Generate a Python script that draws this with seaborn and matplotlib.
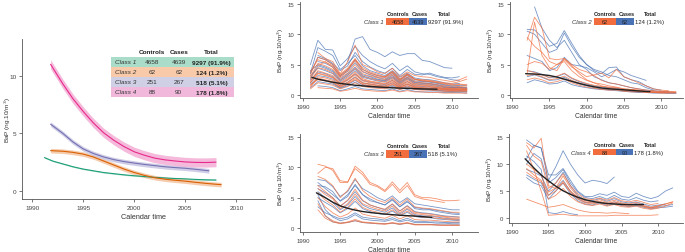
import numpy as np
import pandas as pd
import matplotlib
matplotlib.use("Agg")
import matplotlib.pyplot as plt
import seaborn as sns

# ---- data -------------------------------------------------------------
years = list(range(1991, 2013))
N = None

class_names = ["Class 1", "Class 2", "Class 3", "Class 4"]
n_controls = [4658, 62, 251, 88]
n_cases = [4639, 62, 267, 90]
n_total = ["9297 (91.9%)", "124 (1.2%)", "518 (5.1%)", "178 (1.8%)"]

# mean class trajectories (left panel and black lines)
c1_years = [1991.2, 1992, 1993, 1994, 1995, 1996, 1997, 1998, 1999, 2000, 2001, 2002, 2003, 2004, 2005, 2006, 2007, 2008]
c1_mean = [2.9, 2.6, 2.35, 2.1, 1.9, 1.75, 1.6, 1.5, 1.4, 1.32, 1.25, 1.18, 1.13, 1.08, 1.05, 1.0, 0.97, 0.95]
c2_years = [1991.8, 1993, 1994, 1995, 1996, 1997, 1998, 1999, 2000, 2001, 2002, 2003, 2004, 2005, 2006, 2007, 2008, 2008.5]
c2_mean = [3.5, 3.45, 3.35, 3.2, 2.95, 2.6, 2.25, 1.9, 1.6, 1.35, 1.15, 1.02, 0.93, 0.85, 0.75, 0.66, 0.58, 0.55]
c3_years = [1991.8, 1993, 1994, 1995, 1996, 1997, 1998, 1999, 2000, 2001, 2002, 2003, 2004, 2005, 2006, 2007, 2007.3]
c3_mean = [5.8, 5.0, 4.25, 3.65, 3.25, 2.95, 2.72, 2.55, 2.42, 2.3, 2.2, 2.1, 2.03, 1.97, 1.88, 1.78, 1.75]
c4_years = [1991.8, 1993, 1994, 1995, 1996, 1997, 1998, 1999, 2000, 2001, 2002, 2003, 2004, 2005, 2006, 2007, 2008]
c4_mean = [11.0, 9.3, 8.0, 6.9, 5.9, 5.05, 4.4, 3.85, 3.4, 3.1, 2.85, 2.7, 2.6, 2.52, 2.48, 2.47, 2.5]
band_halfwidth = [0.05, 0.2, 0.2, 0.4]

# individual trajectories, yearly 1991-2012
c1_cases = [
    [5.0, 9.0, 7.5, 7.4, 4.8, 6.0, 8.0, 6.5, 5.5, 4.8, 4.3, 5.2, 4.0, 4.8, 3.8, 3.5, 3.4, 3.0, 2.8, 2.5, 2.4, N],
    [N, N, N, N, N, 5.5, 9.2, 9.6, 7.5, 7.0, 6.3, 7.1, 6.5, 6.8, 6.8, 5.7, 5.5, 5.0, 4.5, 4.4, N, N],
    [3.5, 6.2, 5.8, 5.0, 3.2, 4.2, 5.8, 4.2, 3.6, 3.2, 2.9, 3.8, 2.5, 3.4, 2.6, 2.3, 2.2, 2.0, 1.7, 1.5, 1.6, 1.5],
    [2.5, 3.8, 3.5, 3.0, 1.8, 2.5, 3.5, 2.4, 2.1, 1.9, 1.7, 2.4, 1.5, 2.2, 1.5, 1.4, 1.3, 1.2, 1.0, 0.9, 1.0, 0.9],
    [1.8, 2.6, 2.4, 2.0, 1.2, 1.7, 2.4, 1.7, 1.5, 1.3, 1.2, 1.6, 1.0, 1.5, 1.0, 0.9, 0.9, 0.8, 0.7, 0.6, 0.7, 0.6],
    [N, 1.5, 1.4, 1.2, 0.7, 1.0, 1.4, 1.0, 0.9, 0.8, 0.7, 1.0, 0.6, 0.9, 0.6, 0.5, 0.5, 0.5, 0.4, 0.4, 0.4, 0.3],
    [4.0, 5.0, 4.6, 4.0, 2.6, 3.5, 4.6, 3.3, 3.0, 2.6, 2.4, 3.2, 2.1, 2.9, 2.1, 2.0, 1.9, 1.7, 1.4, 1.2, 1.3, 1.2],
    [N, 6.5, 6.0, 5.2, 4.0, 4.8, 7.0, 5.5, 4.6, 4.0, 3.6, 4.4, 3.2, 4.2, 3.4, 3.3, 3.6, 3.2, 2.9, 2.8, 3.0, N],
    [3.2, 4.4, 4.0, 3.5, 2.2, 3.0, 4.0, 2.9, 2.6, 2.3, 2.1, 2.8, 1.8, 2.6, 1.8, 1.7, 1.6, 1.4, 1.2, 1.1, 1.2, 1.1],
    [2.0, 3.2, 3.0, 2.6, 1.5, 2.1, 3.0, 2.0, 1.8, 1.6, 1.5, 2.0, 1.3, 1.8, 1.3, 1.2, 1.1, 1.0, 0.9, 0.8, 0.8, 0.8],
    [2.8, 4.8, 4.4, 3.8, 2.4, 3.3, 4.3, 3.1, 2.8, 2.5, 2.3, 3.0, 2.0, 2.8, 2.0, 1.9, 1.8, 1.6, 1.3, 1.2, 1.2, 1.1],
    [1.2, 2.2, 2.0, 1.8, 1.1, 1.5, 2.1, 1.5, 1.3, 1.2, 1.1, 1.4, 0.9, 1.3, 0.9, 0.9, 0.8, 0.7, 0.6, 0.6, 0.6, 0.5],
    [N, 5.5, 5.2, 4.6, 3.0, 3.9, 5.3, 3.8, 3.3, 2.9, 2.6, 3.5, 2.3, 3.2, 2.3, 2.2, 2.1, 1.9, 1.6, 1.4, 1.5, N],
    [3.6, 7.8, 7.2, 6.5, 4.2, 5.2, 6.5, 4.8, 4.0, 3.6, 3.2, 4.0, 2.9, 3.6, 2.8, 2.6, 2.5, 2.3, 2.0, 1.8, 1.9, N],
]
c1_controls = [
    [3.0, 5.2, 4.8, 4.2, 2.8, 3.6, 5.0, 3.5, 3.1, 2.8, 2.5, 3.3, 2.2, 3.0, 2.2, 2.0, 1.9, 1.7, 1.5, 1.3, 1.4, 1.3],
    [2.2, 4.0, 3.6, 3.2, 2.0, 2.8, 3.8, 2.7, 2.3, 2.1, 1.9, 2.6, 1.7, 2.4, 1.7, 1.6, 1.5, 1.3, 1.1, 1.0, 1.1, 1.0],
    [1.5, 3.0, 2.8, 2.4, 1.5, 2.1, 2.9, 2.0, 1.8, 1.6, 1.4, 2.0, 1.3, 1.8, 1.3, 1.2, 1.1, 1.0, 0.9, 0.8, 0.9, 0.8],
    [1.0, 2.0, 1.8, 1.6, 1.0, 1.4, 2.0, 1.4, 1.2, 1.1, 1.0, 1.3, 0.9, 1.2, 0.9, 0.8, 0.8, 0.7, 0.6, 0.5, 0.6, 0.5],
    [N, 7.0, 6.0, 5.5, 3.5, 5.5, 8.2, 5.0, 4.5, 3.8, 3.5, 4.4, 3.0, 3.8, 3.2, 3.0, 2.9, 2.6, 2.4, 2.2, 2.5, 3.0],
    [3.8, 5.8, 5.4, 4.8, 3.2, 4.2, 5.6, 3.9, 3.4, 3.0, 2.8, 3.6, 2.4, 3.3, 2.5, 2.3, 2.2, 2.0, 1.8, 1.6, 1.7, 1.6],
    [2.7, 4.5, 4.2, 3.6, 2.4, 3.2, 4.4, 3.1, 2.7, 2.4, 2.2, 2.9, 1.9, 2.7, 1.9, 1.8, 1.7, 1.5, 1.3, 1.1, 1.2, 1.1],
    [N, 1.2, 1.1, 1.0, 0.6, 0.8, 1.1, 0.8, 0.7, 0.6, 0.6, 0.8, 0.5, 0.7, 0.5, 0.5, 0.4, 0.4, 0.3, 0.3, 0.3, 0.3],
    [2.4, 3.5, 3.2, 2.8, 1.7, 2.4, 3.3, 2.3, 2.0, 1.8, 1.6, 2.2, 1.4, 2.0, 1.4, 1.3, 1.3, 1.1, 1.0, 0.9, 0.9, 0.9],
    [1.7, 2.5, 2.3, 2.0, 1.3, 1.8, 2.5, 1.7, 1.5, 1.4, 1.2, 1.7, 1.1, 1.5, 1.1, 1.0, 1.0, 0.9, 0.8, 0.7, 0.7, 0.7],
    [3.4, 6.2, 5.8, 5.0, 3.4, 4.4, 6.0, 4.2, 3.6, 3.2, 3.0, 3.9, 2.6, 3.5, 2.6, 2.4, 2.3, 2.1, 1.9, 1.7, 1.8, 1.7],
    [1.3, 2.8, 2.5, 2.2, 1.4, 1.9, 2.7, 1.9, 1.7, 1.5, 1.3, 1.8, 1.2, 1.7, 1.2, 1.1, 1.0, 0.9, 0.8, 0.7, 0.8, 0.7],
    [2.0, 3.6, 3.3, 2.9, 1.9, 2.6, 3.5, 2.5, 2.2, 2.0, 1.8, 2.4, 1.6, 2.2, 1.6, 1.5, 1.4, 1.2, 1.1, 1.0, 1.0, 0.9],
    [N, 4.8, 5.5, 4.5, 3.0, 4.0, 5.8, 4.5, 3.8, 3.4, 3.0, 3.8, 2.6, 3.4, 2.6, 2.5, 2.4, 2.2, 2.0, 1.9, 2.2, 2.6],
]
c2_cases = [
    [N, 10.8, 10.7, 9.5, 8.0, 8.5, 10.6, 8.5, 6.5, 5.0, 4.0, 3.5, 4.5, 4.6, 3.0, 2.5, 2.2, 1.5, 1.0, 0.8, N, N],
    [N, N, 14.5, 11.0, 9.0, 7.8, 9.0, 7.0, 5.0, 4.2, 3.0, 2.5, 2.0, 1.8, 1.5, 1.2, 1.0, 0.8, 0.7, 0.6, 0.5, N],
    [N, 6.5, 6.0, 5.5, 4.0, 4.5, 6.2, 5.0, 4.8, 4.5, 3.8, 3.0, 3.5, 4.2, 3.8, 3.2, 2.8, 2.4, N, N, N, N],
    [N, 4.0, 3.8, 3.4, 2.8, 3.0, 3.5, 2.7, 2.2, 1.8, 1.5, 1.3, 1.2, 1.1, 0.9, 0.8, 0.7, 0.6, 0.5, 0.5, 0.5, 0.4],
    [N, 3.0, 3.3, 2.9, 2.4, 2.5, 2.9, 2.2, 1.8, 1.5, 1.2, 1.0, 0.9, 0.9, 0.7, 0.6, 0.5, 0.5, 0.4, 0.4, 0.3, 0.3],
    [N, 2.0, 2.5, 2.2, 1.8, 1.9, 2.3, 1.7, 1.4, 1.2, 1.0, 0.9, 0.8, 0.7, 0.6, 0.5, 0.4, 0.4, 0.3, 0.3, 0.3, 0.3],
    [N, 10.5, 10.0, 8.5, 7.0, 7.5, 10.2, 8.0, 6.2, 5.0, 4.2, 3.8, 3.2, 3.0, 2.5, 2.0, 1.8, 1.2, 0.8, N, N, N],
]
c2_controls = [
    [N, 9.0, 12.8, 11.0, 6.0, 5.8, 6.0, 4.8, 3.5, 2.5, 2.0, 1.8, 1.5, 1.3, 1.0, 0.9, 0.8, 0.6, 0.5, 0.5, 0.4, N],
    [N, 3.5, 12.0, 6.5, 4.5, 4.0, 6.0, 5.0, 4.2, 3.8, 3.2, 2.4, 2.0, 1.8, 1.5, 1.2, 1.0, 0.8, 0.7, 0.6, 0.6, 0.5],
    [N, 4.0, 3.7, 3.3, 2.9, 3.1, 3.6, 2.8, 2.3, 1.9, 1.6, 1.4, 1.3, 1.2, 1.0, 0.9, 0.8, 0.6, 0.5, 0.5, 0.5, 0.5],
    [N, 3.2, 3.4, 3.0, 2.5, 2.7, 3.1, 2.4, 2.0, 1.6, 1.3, 1.1, 1.0, 0.9, 0.8, 0.7, 0.6, 0.5, 0.5, 0.4, 0.4, 0.4],
    [N, 2.5, 2.8, 2.5, 2.0, 2.2, 2.6, 2.0, 1.6, 1.3, 1.1, 0.9, 0.8, 0.8, 0.6, 0.5, 0.5, 0.4, 0.4, 0.3, 0.3, 0.3],
    [N, 5.0, 5.5, 5.2, 4.2, 5.0, 5.8, 4.6, 3.8, 3.0, 3.3, 3.6, 2.8, 4.2, 3.0, 2.5, 2.0, 1.5, 1.0, 0.8, 0.7, N],
    [N, 9.5, 8.0, 7.0, 5.5, 5.0, 5.5, 4.0, 3.0, 2.4, 2.0, 1.5, 1.2, 1.0, 0.8, 0.7, 0.6, 0.5, 0.4, 0.4, N, N],
]
c3_cases = [
    [N, 7.5, 6.5, 5.5, 4.5, 5.5, 7.0, 5.5, 4.5, 4.2, 3.8, 4.8, 3.5, 4.5, 3.2, 3.0, 3.0, 2.7, 2.5, 2.3, 2.2, N],
    [N, 6.0, 5.0, 4.2, 3.0, 3.8, 5.2, 3.8, 3.2, 2.9, 2.6, 3.3, 2.3, 3.1, 2.2, 2.0, 2.0, 1.8, 1.6, 1.5, 1.4, N],
    [N, 5.5, 3.0, 1.8, 1.2, 1.5, 2.2, 1.5, 1.3, 1.2, 1.1, 1.4, 1.0, 1.3, 0.9, 0.9, 0.9, 0.8, 0.8, 0.7, 0.7, N],
    [N, 4.5, 2.0, 1.0, 0.8, 0.9, 1.2, 0.9, 0.8, 0.7, 0.7, 0.8, 0.6, 0.8, 0.6, 0.6, 0.6, 0.5, 0.5, 0.5, 0.5, N],
    [N, 8.0, 7.8, 6.8, 5.2, 6.0, 8.0, 6.5, 5.8, 5.0, 4.5, 5.3, 4.2, 5.0, 4.0, 3.8, 3.6, 3.4, 3.2, 3.0, 3.0, N],
    [N, 6.5, 5.8, 5.0, 3.6, 4.5, 6.0, 4.5, 3.8, 3.4, 3.0, 3.9, 2.8, 3.7, 2.7, 2.5, 2.4, 2.2, 2.0, 1.9, 1.8, N],
    [N, 3.5, 2.5, 2.0, 1.5, 1.8, 2.5, 1.8, 1.6, 1.5, 1.3, 1.7, 1.2, 1.6, 1.1, 1.1, 1.0, 1.0, 0.9, 0.9, 0.9, N],
    [N, 5.0, 4.2, 3.5, 2.5, 3.2, 4.4, 3.2, 2.7, 2.4, 2.2, 2.8, 2.0, 2.6, 1.9, 1.7, 1.7, 1.5, 1.4, 1.3, 1.2, N],
    [N, 7.0, 6.8, 6.0, 4.4, 5.2, 7.2, 5.5, 4.8, 4.2, 3.8, 4.6, 3.5, 4.3, 3.4, 3.2, 3.1, 2.9, 2.7, 2.5, 2.4, N],
]
c3_controls = [
    [N, 10.5, 10.2, 9.5, 7.5, 7.5, 10.2, 9.2, 7.5, 7.0, 6.2, 7.6, 6.2, 7.5, 5.5, 5.0, 5.0, 4.8, 4.5, 4.5, 4.6, N],
    [N, 9.0, 10.0, 9.8, 7.8, 7.6, 9.8, 8.8, 7.2, 6.8, 6.0, 7.2, 5.8, 7.0, 5.2, 4.8, 4.6, 4.4, 4.2, N, N, N],
    [N, 7.0, 6.0, 5.0, 3.6, 4.6, 6.4, 4.6, 3.8, 3.4, 3.1, 4.0, 2.8, 3.6, 2.6, 2.4, 2.3, 2.1, 1.9, 1.8, 1.8, N],
    [N, 5.0, 3.5, 2.5, 1.8, 2.3, 3.3, 2.3, 2.0, 1.8, 1.6, 2.1, 1.5, 2.0, 1.4, 1.3, 1.3, 1.2, 1.1, 1.0, 1.0, N],
    [N, 6.5, 5.5, 4.8, 3.2, 4.0, 5.6, 4.0, 3.5, 3.1, 2.8, 3.6, 2.5, 3.3, 2.4, 2.2, 2.1, 1.9, 1.8, 1.6, 1.6, N],
    [N, 4.0, 2.0, 1.2, 0.8, 1.0, 1.4, 1.0, 0.9, 0.8, 0.7, 0.9, 0.7, 0.9, 0.6, 0.6, 0.6, 0.5, 0.5, 0.5, 0.5, N],
    [N, 8.5, 8.0, 7.0, 5.0, 6.2, 8.2, 6.2, 5.2, 4.6, 4.2, 5.0, 3.8, 4.8, 3.5, 3.3, 3.2, 3.0, 2.8, 2.6, 2.6, N],
    [N, 5.8, 4.6, 3.8, 2.6, 3.4, 4.8, 3.4, 2.9, 2.6, 2.3, 3.0, 2.1, 2.8, 2.0, 1.8, 1.8, 1.6, 1.5, 1.4, 1.3, N],
    [N, 3.0, 1.6, 1.0, 0.7, 0.9, 1.2, 0.9, 0.8, 0.7, 0.6, 0.8, 0.6, 0.8, 0.5, 0.5, 0.5, 0.5, 0.4, 0.4, 0.4, N],
]
c4_cases = [
    [N, 11.0, 13.5, 13.0, 7.0, 9.5, 12.5, 10.0, 8.0, 6.5, 7.0, 6.8, 6.4, 7.6, N, N, N, N, N, N, N, N],
    [N, 14.5, 13.5, 13.0, 8.0, 8.0, 9.2, 7.0, 5.0, 4.0, 4.0, 4.5, 4.2, 4.8, 4.0, 3.8, 4.6, 4.0, 3.6, 4.0, 5.0, 5.6],
    [N, 9.0, 8.5, 7.8, 5.0, 6.5, 8.5, 6.0, 4.2, 3.3, 3.2, 3.6, 3.1, 3.6, 3.0, 2.8, 3.0, 2.6, 2.2, 2.4, 2.6, N],
    [N, 7.5, 6.5, 6.0, 3.5, 5.0, 6.5, 4.5, 3.2, 2.6, 2.4, 2.8, 2.3, 2.7, 2.3, 2.1, 2.3, 2.0, 1.7, 1.9, 2.0, 2.2],
    [N, 11.5, 10.5, 9.0, 1.0, 0.8, 1.2, 0.8, 0.6, N, N, N, N, N, N, N, N, N, N, N, N, N],
    [N, 10.0, 12.0, 11.0, 6.5, 7.5, 9.0, 6.5, 4.8, 3.8, 3.6, 4.0, 3.5, 4.2, 3.5, 3.3, 3.8, 3.3, 3.0, 3.2, N, N],
    [N, 8.0, 7.2, 6.5, 4.2, 5.5, 7.0, 5.0, 3.6, 2.9, 2.8, 3.0, 2.6, 3.0, 2.6, 2.4, 2.7, 2.2, 1.9, 2.1, 2.3, 2.5],
]
c4_controls = [
    [N, 14.0, 13.0, 14.8, 6.0, 5.5, 6.5, 4.8, 3.5, 2.8, 2.6, 2.9, 2.5, 2.8, 2.4, 2.2, 2.5, 2.1, 1.8, 2.0, N, N],
    [N, 10.0, 9.0, 8.0, 4.2, 5.0, 6.8, 5.0, 3.8, 3.0, 2.8, 3.1, 2.7, 3.0, 2.6, 2.4, 2.6, 2.2, 1.9, 2.2, 2.6, 3.0],
    [N, 9.2, 8.0, 7.0, 3.5, 4.2, 5.5, 4.0, 3.0, 2.5, 2.3, 2.6, 2.2, 2.5, 2.1, 2.0, 2.2, 1.8, 1.6, 1.8, 2.2, 2.8],
    [N, 12.5, 9.0, 5.0, 0.5, 0.6, 0.7, 0.5, 0.4, 0.4, 0.4, 0.4, 0.4, 0.5, 0.5, 0.5, 0.5, 0.5, 0.5, 0.6, N, N],
    [N, 3.5, 3.0, 2.5, 2.0, 2.2, 2.5, 2.0, 1.5, 1.2, 1.0, 1.0, 0.9, 1.0, 0.9, 0.8, N, N, N, N, N, N],
    [N, 8.5, 7.5, 6.8, 4.8, 5.6, 7.8, 5.6, 4.0, 3.2, 3.0, 3.4, 2.9, 3.3, 2.8, 2.6, 2.9, 2.4, 2.0, 2.3, 2.6, 3.0],
    [N, 13.5, 11.5, 10.5, 5.5, 6.5, 8.2, 6.0, 4.5, 3.6, 3.4, 3.7, 3.3, 3.8, 3.2, 3.0, 3.3, 2.9, 2.5, 2.7, N, N],
]

# ---- style ------------------------------------------------------------
sns.set_theme(style="white")
plt.rcParams["font.family"] = ["Liberation Sans", "DejaVu Sans"]
plt.rcParams["axes.edgecolor"] = "#555555"
plt.rcParams["axes.linewidth"] = 0.6

class_colors = ["#1b9e77", "#d95f02", "#7570b3", "#e7298a"]
band_colors = ["#a6d9c4", "#f3c09a", "#c4c2e0", "#f3a9d2"]
row_colors = ["#a9dcc9", "#f8caa9", "#cfcfe6", "#f2b8dc"]
ctrl_color = "#f26d3d"
case_color = "#4a73b5"

W, H = 685, 253
fig = plt.figure(figsize=(W / 100, H / 100), dpi=100)


def add_axes(l, t, r, b):
    return fig.add_axes([l / W, 1 - b / H, (r - l) / W, (b - t) / H])


def style_axes(ax, xlim, ylim, yticks, fs=4.6):
    sns.despine(ax=ax)
    ax.set_xticks([1990, 1995, 2000, 2005, 2010])
    ax.set_yticks(yticks)
    ax.set_xlim(*xlim)
    ax.set_ylim(*ylim)
    ax.tick_params(axis="both", length=2.5, width=0.5, pad=1.5, labelsize=fs,
                   colors="#444444", left=True, bottom=True)
    ax.set_xlabel("Calendar time", fontsize=fs + 0.6, labelpad=2.5, color="#333333")
    ax.set_ylabel("BaP (ng.10/m$^3$)", fontsize=fs + 0.2, labelpad=1.5, color="#333333")


# ---- left panel: class mean curves -------------------------------------
ax0 = add_axes(22, 40, 265, 200)
style_axes(ax0, (1989.0, 2012.8), (-0.7, 13.2), [0, 5, 10], fs=4.6)
ax0.set_ylabel("BaP (ng.10/m$^3$)", fontsize=4.6, color="#333333")
ax0.yaxis.set_label_coords(-0.036, 0.5)
curves = [(c1_years, c1_mean), (c2_years, c2_mean), (c3_years, c3_mean), (c4_years, c4_mean)]
for i, (cy, cm) in enumerate(curves):
    cm = np.array(cm)
    ax0.fill_between(cy, cm - band_halfwidth[i], cm + band_halfwidth[i],
                     color=band_colors[i], alpha=0.8, lw=0)
    sns.lineplot(x=cy, y=cm, ax=ax0, color=class_colors[i], lw=0.8)

# summary table
tx = [0.366, 0.872]
col_x = [0.425, 0.535, 0.645, 0.78]
row_top = [0.8875, 0.825, 0.7625, 0.70]
rh = 0.0625
for j, hdr in enumerate(["Controls", "Cases", "Total"]):
    ax0.text(col_x[j + 1], 0.92, hdr, transform=ax0.transAxes, ha="center",
             va="center", fontsize=4.6, fontweight="bold", color="#222222")
for i in range(4):
    ax0.add_patch(plt.Rectangle((tx[0], row_top[i] - rh), tx[1] - tx[0], rh,
                                transform=ax0.transAxes, color=row_colors[i], lw=0))
    yc = row_top[i] - rh / 2
    ax0.text(col_x[0], yc, class_names[i], transform=ax0.transAxes, ha="center",
             va="center", fontsize=4.6, style="italic", color="#333333")
    ax0.text(col_x[1], yc, str(n_controls[i]), transform=ax0.transAxes, ha="center",
             va="center", fontsize=4.6, color="#333333")
    ax0.text(col_x[2], yc, str(n_cases[i]), transform=ax0.transAxes, ha="center",
             va="center", fontsize=4.6, color="#333333")
    ax0.text(col_x[3], yc, n_total[i], transform=ax0.transAxes, ha="center",
             va="center", fontsize=4.6, fontweight="bold", color="#222222")

# ---- right panels: individual trajectories ----------------------------
panels = [
    ((300, 3, 478, 99), (1989.6, 2013.5), (-0.5, 15.3), c1_cases, c1_controls),
    ((510, 3, 683, 99), (1989.7, 2012.95), (-0.5, 15.3), c2_cases, c2_controls),
    ((300, 135, 478, 233), (1989.6, 2013.5), (-0.66, 15.5), c3_cases, c3_controls),
    ((509, 135, 683, 224), (1989.6, 2013.4), (-0.93, 15.6), c4_cases, c4_controls),
]
# table box positions in axes fraction: label right edge, ctrl box, case box, total left
tab_x = [0.47, 0.485, 0.615, 0.715, 0.72]

for k, (box, xl, yl, cases, controls) in enumerate(panels):
    ax = add_axes(*box)
    style_axes(ax, xl, yl, [0, 5, 10, 15], fs=4.3)
    rows = []
    sid = 0
    for grp, trajs in (("Cases", cases), ("Controls", controls)):
        for tr in trajs:
            for yr, v in zip(years, tr):
                if v is not None:
                    rows.append({"year": yr, "bap": v, "subject": sid, "group": grp})
            sid += 1
    df = pd.DataFrame(rows)
    sns.lineplot(data=df, x="year", y="bap", hue="group", units="subject",
                 estimator=None, palette={"Cases": case_color, "Controls": ctrl_color},
                 hue_order=["Cases", "Controls"], lw=0.6, alpha=0.75, legend=False, ax=ax)
    cy, cm = curves[k]
    sns.lineplot(x=cy, y=cm, ax=ax, color="#222222", lw=1.0)

    # little counts table
    th = 0.88
    rh2 = 0.075
    ax.text((tab_x[1] + tab_x[2]) / 2, th, "Controls", transform=ax.transAxes,
            ha="center", va="center", fontsize=4.0, fontweight="bold", color="#222222")
    ax.text((tab_x[2] + tab_x[3]) / 2 + 0.01, th, "Cases", transform=ax.transAxes,
            ha="center", va="center", fontsize=4.0, fontweight="bold", color="#222222")
    ax.text(tab_x[4] + 0.09, th, "Total", transform=ax.transAxes,
            ha="center", va="center", fontsize=4.0, fontweight="bold", color="#222222")
    y0 = th - 0.045 - rh2
    ax.add_patch(plt.Rectangle((tab_x[1], y0), tab_x[2] - tab_x[1], rh2,
                               transform=ax.transAxes, color=ctrl_color, lw=0))
    ax.add_patch(plt.Rectangle((tab_x[2], y0), tab_x[3] - tab_x[2], rh2,
                               transform=ax.transAxes, color=case_color, lw=0))
    yc = y0 + rh2 / 2
    ax.text(tab_x[0], yc, class_names[k], transform=ax.transAxes, ha="right",
            va="center", fontsize=4.2, style="italic", color="#333333")
    ax.text((tab_x[1] + tab_x[2]) / 2, yc, str(n_controls[k]), transform=ax.transAxes,
            ha="center", va="center", fontsize=4.0, color="#222222")
    ax.text((tab_x[2] + tab_x[3]) / 2, yc, str(n_cases[k]), transform=ax.transAxes,
            ha="center", va="center", fontsize=4.0, color="#222222")
    ax.text(tab_x[4], yc, n_total[k], transform=ax.transAxes, ha="left",
            va="center", fontsize=4.2, color="#222222")

fig.savefig("out.png", dpi=100)
